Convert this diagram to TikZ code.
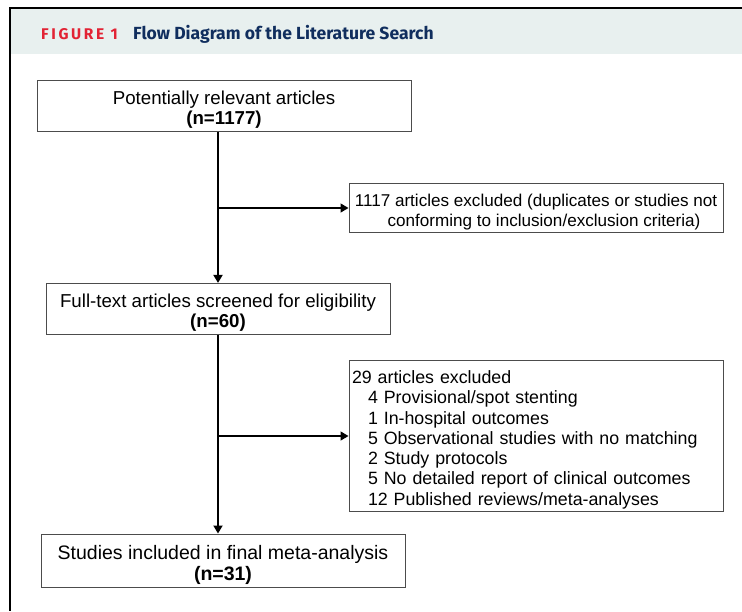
\documentclass[tikz,border=0pt]{standalone}
\usepackage{fontspec}
\setmainfont{Liberation Sans}
\newfontfamily\titlefont{Fira Sans}
\usetikzlibrary{arrows.meta}
\definecolor{headbg}{RGB}{232,240,239}
\definecolor{figred}{RGB}{226,35,52}
\definecolor{figblue}{RGB}{16,46,94}
\newcommand\boxfont{\fontsize{18.7}{19.8}\selectfont}
\newcommand\topstrut{\rule{0pt}{1.15em}}

\begin{document}
\begin{tikzpicture}[x=1pt,y=-1pt,>={Triangle[length=8pt,width=9pt]},
  box/.style={draw=black!70,line width=1pt,inner sep=3pt,align=center,font=\boxfont},
  flow/.style={->,line width=1.8pt}]
  \useasboundingbox (0,0) rectangle (742,611);
  % heading band and frame
  \fill[headbg] (10,9) rectangle (742,54);
  \draw[line width=2pt] (742,8) -- (10,8) -- (10,611);
  \node[anchor=base west,inner sep=0pt,text=figred,
        font=\titlefont\bfseries\fontsize{15.5}{18}\selectfont\addfontfeature{LetterSpace=17}]
        (fig) at (41,39) {FIGURE 1};
  \node[anchor=base west,inner sep=0pt,text=figblue,
        font=\titlefont\bfseries\fontsize{17.55}{20}\selectfont]
        (title) at (133,39) {Flow Diagram of the Literature Search};
  % boxes
  \node[box,minimum width=374pt,minimum height=48pt] (pot) at (224,106)
       {\topstrut Potentially relevant articles\\ \textbf{(n=1177)}};
  \node[box,minimum width=374pt,minimum height=48pt,font=\fontsize{17.1}{20}\selectfont] (excl1) at (536,208)
       {\topstrut 1117 articles excluded (duplicates or studies not\\ \hspace*{16pt}conforming to inclusion/exclusion criteria)};
  \node[box,minimum width=344pt,minimum height=48pt] (full) at (218,309)
       {\topstrut Full-text articles screened for eligibility\\ \textbf{(n=60)}};
  \node[box,minimum height=150pt,text width=368pt,align=left,font=\fontsize{17.8}{20.3}\selectfont] (excl2) at (536,436)
       {\topstrut 29 articles excluded\\
        \hspace*{16pt}4 Provisional/spot stenting\\
        \hspace*{16pt}1 In-hospital outcomes\\
        \hspace*{16pt}5 Observational studies with no matching\\
        \hspace*{16pt}2 Study protocols\\
        \hspace*{16pt}5 No detailed report of clinical outcomes\\
        \hspace*{16pt}12 Published reviews/meta-analyses};
  \node[box,minimum width=364pt,minimum height=50pt,font=\fontsize{19.5}{21.5}\selectfont] (incl) at (223,561)
       {\topstrut Studies included in final meta-analysis\\ \textbf{(n=31)}};
  % connectors
  \draw[flow] (pot.south -| full.north) -- (full.north);
  \draw[flow] (full.south) -- (full.south |- incl.north);
  \draw[->,line width=1.4pt] (full.north |- excl1.west) -- (excl1.west);
  \draw[->,line width=1.4pt] (full.south |- excl2.west) -- (excl2.west);
\end{tikzpicture}
\end{document}
